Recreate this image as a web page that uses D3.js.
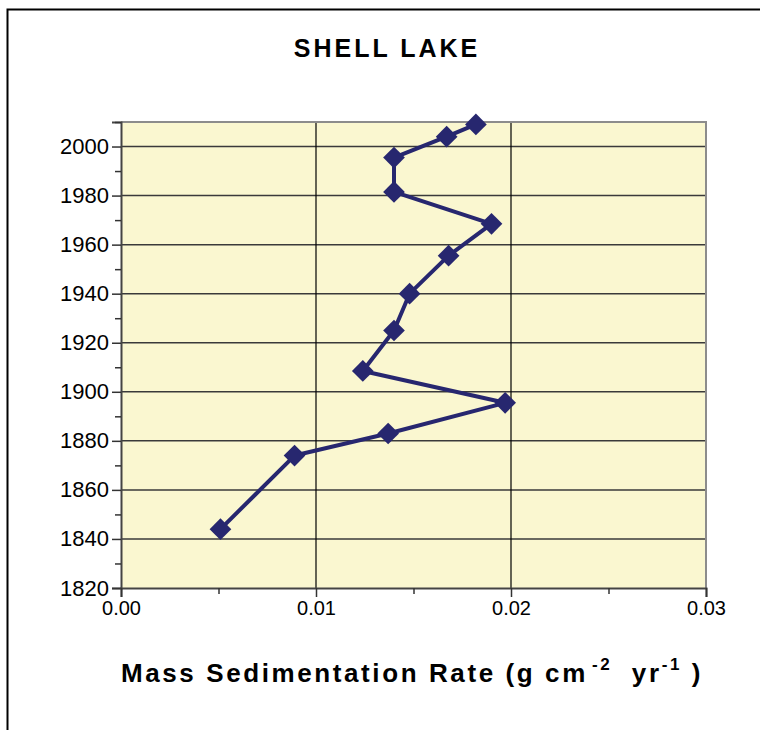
<!DOCTYPE html>
<html>
<head>
<meta charset="utf-8">
<script src="https://cdn.jsdelivr.net/npm/d3@7"></script>
<style>
  body { margin: 0; background: #fff; }
  svg { display: block; font-family: "Liberation Sans", Arial, sans-serif; }
</style>
</head>
<body>
<svg id="chart"></svg>
<script>
// Shell Lake: mass sedimentation rate by year
const years = [2009, 2004, 1995.5, 1981.5, 1968.5, 1955.5, 1940, 1925, 1908.5, 1895.5, 1883, 1874, 1844]
const rates = [0.0182, 0.0167, 0.0140, 0.0140, 0.0190, 0.0168, 0.0148, 0.0140, 0.0124, 0.0197, 0.0137, 0.0089, 0.0051]
const xTicks = [0, 0.01, 0.02, 0.03]
const yTicks = [1820, 1840, 1860, 1880, 1900, 1920, 1940, 1960, 1980, 2000]

let svg = d3.select("#chart").attr("width", 760).attr("height", 730)

function translate(x, y) {
    return "translate(" + x + ", " + y + ")"
}

// outer frame (runs off the right/bottom of the picture)
svg.append("rect")
    .attr("x", 7.5).attr("y", 9.5).attr("width", 800).attr("height", 800)
    .attr("fill", "none").attr("stroke", "#000").attr("stroke-width", 2)

let margin = {left: 121, top: 122, right: 54, bottom: 142},
    width = 760 - margin.left - margin.right,
    height = 730 - margin.top - margin.bottom

let x = d3.scaleLinear().domain([0, 0.03]).range([0, width]),
    y = d3.scaleLinear().domain([1820, 2010]).range([height, 0])

let g = svg.append("g").attr("transform", translate(margin.left, margin.top))

g.append("rect")
    .attr("width", width).attr("height", height)
    .attr("fill", "#faf7d0")

// gridlines
g.selectAll(".hgrid").data(yTicks.slice(1))
    .enter().append("line")
    .attr("x1", 0).attr("x2", width)
    .attr("y1", d => y(d)).attr("y2", d => y(d))
    .attr("stroke", "#3a3a3a").attr("stroke-width", 1.5)

g.selectAll(".vgrid").data(xTicks.slice(1, -1))
    .enter().append("line")
    .attr("x1", d => x(d)).attr("x2", d => x(d))
    .attr("y1", 0).attr("y2", height)
    .attr("stroke", "#000").attr("stroke-width", 1.2)

// plot border top / right
g.append("path")
    .attr("d", "M0,0H" + width + "V" + height)
    .attr("fill", "none").attr("stroke", "#8c8c8c").attr("stroke-width", 2)

// axes
let yMinor = d3.range(1830, 2011, 20)
let yAxis = d3.axisLeft(y).tickValues(yTicks).tickSize(9).tickPadding(3).tickFormat(d3.format("d"))
let yAx = g.append("g").call(yAxis)
g.append("g").call(d3.axisLeft(y).tickValues(yMinor).tickSize(6).tickFormat(""))
    .call(a => a.select(".domain").remove())

let xAxis = d3.axisBottom(x).tickValues(xTicks).tickSize(9).tickPadding(4).tickFormat(d3.format(".2f"))
let xAx = g.append("g").attr("transform", translate(0, height)).call(xAxis)
g.append("g").attr("transform", translate(0, height))
    .call(d3.axisBottom(x).tickValues([0.005, 0.015, 0.025]).tickSize(6).tickFormat(""))
    .call(a => a.select(".domain").remove())

svg.selectAll(".domain").attr("stroke", "#444").attr("stroke-width", 2)
svg.selectAll(".tick line").attr("stroke", "#333").attr("stroke-width", 1.5)
yAx.selectAll("text").style("font-size", "22px").attr("fill", "#000")
xAx.selectAll("text").style("font-size", "20px").attr("fill", "#000")

// series
let pts = years.map((yr, i) => ({year: yr, rate: rates[i]}))
let line = d3.line().x(d => x(d.rate)).y(d => y(d.year))

g.append("path").datum(pts)
    .attr("d", line)
    .attr("fill", "none").attr("stroke", "#27276f").attr("stroke-width", 4)
    .attr("stroke-linejoin", "round")

g.selectAll(".pt").data(pts)
    .enter().append("path")
    .attr("d", d3.symbol(d3.symbolDiamond2, 300))
    .attr("transform", d => translate(x(d.rate), y(d.year)))
    .attr("fill", "#27276f")

// titles
svg.append("text")
    .attr("x", 387).attr("y", 57)
    .attr("text-anchor", "middle")
    .style("font-size", "25px").attr("font-weight", "bold")
    .attr("letter-spacing", 3)
    .text("SHELL LAKE")

let t = svg.append("text")
    .attr("x", 412).attr("y", 682)
    .attr("text-anchor", "middle")
    .style("font-size", "26px").attr("font-weight", "bold")
    .attr("letter-spacing", 2.6)
t.append("tspan").text("Mass Sedimentation Rate (g cm")
t.append("tspan").attr("dx", 4).attr("dy", -12).style("font-size", "17px").text("-2")
t.append("tspan").attr("dy", 12).text("\u00a0 yr")
t.append("tspan").attr("dy", -12).style("font-size", "17px").text("-1")
t.append("tspan").attr("dy", 12).text(" )")
</script>
</body>
</html>
